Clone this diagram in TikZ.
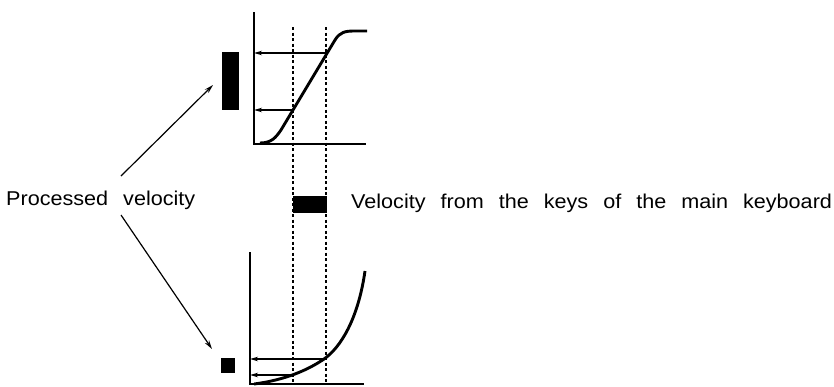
\documentclass[tikz,border=0pt]{standalone}
\usepackage{fontspec}
\newfontfamily\lblfont{Liberation Sans}[FakeStretch=1.08,WordSpace=2.5]
\usetikzlibrary{arrows.meta}

\begin{document}
\begin{tikzpicture}[x=1pt,y=-1pt,
    axis/.style={line width=2.3pt},
    curve/.style={line width=2.9pt},
    guide/.style={line width=1.3pt,dash pattern=on 3pt off 2.5pt},
    readout/.style={line width=1.4pt,-{Stealth[length=8pt,width=4.5pt]}},
    pointer/.style={line width=1.2pt,-{Stealth[length=9pt,width=5pt]}},
    bar/.style={fill=black,inner sep=0pt},
    lbl/.style={font=\lblfont\fontsize{20}{22}\selectfont,inner sep=0pt,anchor=base west}]
  \useasboundingbox (0,0) rectangle (834,386);
  % guides through both graphs
  \draw[guide] (293,27) -- (293,384);
  \draw[guide] (326,27) -- (326,384);
  % upper graph
  \coordinate (o1) at (254,144);
  \draw[axis] (254,12) -- (o1) -- (366,144);
  \coordinate (lo1) at (293,110);
  \coordinate (hi1) at (327,53);
  \draw[curve] (260,143) .. controls (272,143) and (276,137) .. (281,130)
    -- (335,40) .. controls (340,32) and (345,31) .. (355,31) -- (367,31);
  \draw[readout] (hi1) -- (hi1 -| o1);
  \draw[readout] (lo1) -- (lo1 -| o1);
  \node[bar,minimum width=17pt,minimum height=58pt] (big) at (230.5,81) {};
  % lower graph
  \coordinate (o2) at (250,384);
  \draw[axis] (250,252) -- (o2) -- (364,384);
  \coordinate (lo2) at (293,375);
  \coordinate (hi2) at (324,359);
  \draw[curve] (254,384) .. controls (285,380) and (308,370) .. (hi2)
    .. controls (340,348) and (358,320) .. (365,271);
  \draw[readout] (hi2) -- (hi2 -| o2);
  \draw[readout] (lo2) -- (lo2 -| o2);
  \node[bar,minimum width=14pt,minimum height=15pt] (small) at (228,365.5) {};
  % key velocity
  \node[bar,minimum width=34pt,minimum height=17pt] (key) at (310,204.5) {};
  \node[lbl] (keytxt) at (351,208) {Velocity from the keys of the main keyboard};
  % processed velocity
  \node[lbl] (proc) at (6,205) {Processed velocity};
  \coordinate (p1) at (121,176);
  \coordinate (p2) at (121,215);
  \coordinate (q1) at (213,85);
  \coordinate (q2) at (212,349);
  \draw[pointer] (p1) -- (q1);
  \draw[pointer] (p2) -- (q2);
\end{tikzpicture}
\end{document}
